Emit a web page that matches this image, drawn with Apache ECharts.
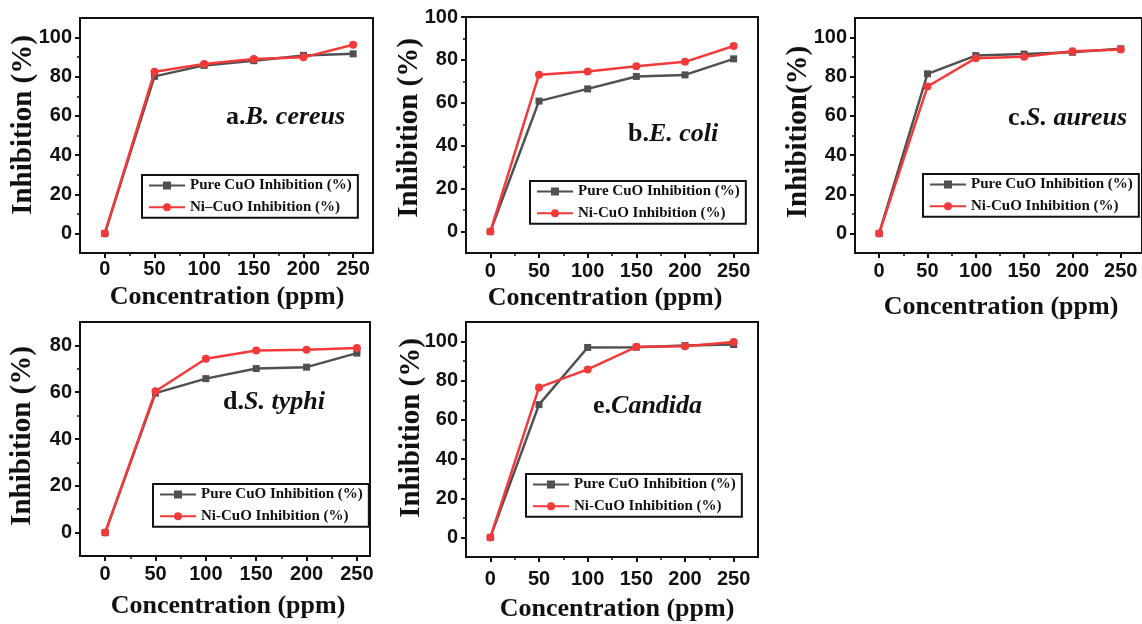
<!DOCTYPE html>
<html>
<head>
<meta charset="utf-8">
<script src="https://cdn.jsdelivr.net/npm/echarts@6/dist/echarts.min.js"></script>
<style>html,body{margin:0;padding:0;background:#fff;}#c{width:1142px;height:624px;}</style>
</head>
<body>
<div id="c"></div>
<script>
// ---------- data ----------
const concentrations = [0, 50, 100, 150, 200, 250];
const xTickValues = [0, 50, 100, 150, 200, 250];
const xMinorValues = [25, 75, 125, 175, 225];
const yTicks100 = [0, 20, 40, 60, 80, 100];
const yMinor100 = [10, 30, 50, 70, 90];
const yTicks80 = [0, 20, 40, 60, 80];
const yMinor80 = [10, 30, 50, 70];

const pureA = [0, 80.2, 85.8, 88.2, 90.9, 91.7];
const niA   = [0, 82.5, 86.5, 89.1, 89.9, 96.3];
const pureB = [0, 60.8, 66.5, 72.3, 73.0, 80.5];
const niB   = [0, 73.1, 74.6, 77.0, 79.1, 86.5];
const pureC = [0, 81.5, 90.8, 91.6, 92.5, 94.3];
const niC   = [0, 75.0, 89.5, 90.2, 93.0, 93.9];
const pureD = [0, 59.6, 65.8, 70.1, 70.7, 76.7];
const niD   = [0, 60.4, 74.3, 77.8, 78.1, 78.9];
const pureE = [0, 67.8, 97.0, 97.1, 98.0, 98.5];
const niE   = [0, 76.6, 85.8, 97.3, 97.6, 99.8];

const pureName = 'Pure CuO Inhibition (%)';
const niNameA = 'Ni–CuO Inhibition (%)';
const niName = 'Ni-CuO Inhibition (%)';
const xTitle = 'Concentration (ppm)';

// ---------- layout ----------
const panels = [
  {pure: pureA, ni: niA, niName: niNameA, grid: {left: 80, top: 18, width: 293, height: 235},
   xMin: -25, xMax: 270, yMin: -10, yMax: 110, yT: yTicks100, yM: yMinor100, xMargin: 6,
   legend: {left: 142, top: 175}, xT: [227, 297], yTitle: 'Inhibition (%)', yTp: [24, 125],
   ann: ['a.', 'B. cereus'], annP: [226, 117]},
  {pure: pureB, ni: niB, niName: niName, grid: {left: 466, top: 17, width: 292, height: 236},
   xMin: -25, xMax: 275, yMin: -10, yMax: 100, yT: yTicks100, yM: yMinor100, xMargin: 8,
   legend: {left: 530, top: 181}, xT: [605, 298], yTitle: 'Inhibition (%)', yTp: [410, 128],
   ann: ['b.', 'E. coli'], annP: [628, 134]},
  {pure: pureC, ni: niC, niName: niName, grid: {left: 855, top: 18, width: 290, height: 235},
   xMin: -25, xMax: 272, yMin: -10, yMax: 110, yT: yTicks100, yM: yMinor100, xMargin: 8,
   legend: {left: 923, top: 174}, xT: [1001, 307], yTitle: 'Inhibition(%)', yTp: [799, 132],
   ann: ['c.', 'S. aureus'], annP: [1008, 118]},
  {pure: pureD, ni: niD, niName: niName, grid: {left: 80, top: 322, width: 290, height: 234},
   xMin: -25, xMax: 263, yMin: -10, yMax: 90, yT: yTicks80, yM: yMinor80, xMargin: 8,
   legend: {left: 153, top: 484}, xT: [228, 606], yTitle: 'Inhibition (%)', yTp: [23, 436],
   ann: ['d.', 'S. typhi'], annP: [223, 402]},
  {pure: pureE, ni: niE, niName: niName, grid: {left: 466, top: 322, width: 292, height: 235},
   xMin: -25, xMax: 275, yMin: -10, yMax: 110, yT: yTicks100, yM: yMinor100, xMargin: 12,
   legend: {left: 526, top: 474}, xT: [617, 609], yTitle: 'Inhibition (%)', yTp: [412, 428],
   ann: ['e.', 'Candida'], annP: [593, 406]}
];

const INK = '#111';
const GRAY = '#505050';
const RED = '#f23a3a';
const tickFont = {color: INK, fontFamily: 'Liberation Sans, Arial, sans-serif', fontWeight: 'bold', fontSize: 20};

const grids = [], xAxes = [], yAxes = [], series = [], legends = [], graphics = [];
panels.forEach((p, i) => {
  grids.push(Object.assign({show: true, borderColor: INK, borderWidth: 2, containLabel: false}, p.grid));
  xAxes.push({
    type: 'value', gridIndex: i, min: p.xMin, max: p.xMax, position: 'bottom',
    axisLine: {show: true, onZero: false, lineStyle: {color: INK, width: 2}},
    axisTick: {show: true, inside: false, customValues: xTickValues, length: 5, lineStyle: {color: INK, width: 2}},
    axisLabel: Object.assign({customValues: xTickValues, margin: p.xMargin}, tickFont),
    splitLine: {show: false}
  });
  xAxes.push({
    type: 'value', gridIndex: i, min: p.xMin, max: p.xMax, position: 'bottom',
    axisLine: {show: false, onZero: false}, axisLabel: {show: false}, splitLine: {show: false},
    axisTick: {show: true, inside: false, customValues: xMinorValues, length: 3, lineStyle: {color: INK, width: 1.5}}
  });
  yAxes.push({
    type: 'value', gridIndex: i, min: p.yMin, max: p.yMax, position: 'left',
    axisLine: {show: true, onZero: false, lineStyle: {color: INK, width: 2}},
    axisTick: {show: true, inside: false, customValues: p.yT, length: 5, lineStyle: {color: INK, width: 2}},
    axisLabel: Object.assign({customValues: p.yT, margin: 8}, tickFont),
    splitLine: {show: false}
  });
  yAxes.push({
    type: 'value', gridIndex: i, min: p.yMin, max: p.yMax, position: 'left',
    axisLine: {show: false, onZero: false}, axisLabel: {show: false}, splitLine: {show: false},
    axisTick: {show: true, inside: false, customValues: p.yM, length: 3, lineStyle: {color: INK, width: 1.5}}
  });
  series.push({
    type: 'line', name: pureName, xAxisIndex: 2 * i, yAxisIndex: 2 * i,
    data: concentrations.map((c, k) => [c, p.pure[k]]),
    symbol: 'rect', symbolSize: 7, color: GRAY,
    lineStyle: {color: GRAY, width: 2.5}, itemStyle: {color: GRAY}, z: 2
  });
  series.push({
    type: 'line', name: p.niName, xAxisIndex: 2 * i, yAxisIndex: 2 * i,
    data: concentrations.map((c, k) => [c, p.ni[k]]),
    symbol: 'circle', symbolSize: 8, color: RED,
    lineStyle: {color: RED, width: 2.5}, itemStyle: {color: RED}, z: 3
  });
  legends.push({
    data: [pureName, p.niName], orient: 'vertical', left: p.legend.left, top: p.legend.top,
    itemWidth: 36, itemHeight: 10, itemGap: 4.7, padding: [2, 6],
    borderColor: INK, borderWidth: 2, selectedMode: false,
    textStyle: {color: INK, fontFamily: 'Liberation Serif, Times New Roman, serif', fontWeight: 'bold', fontSize: 15, lineHeight: 17}
  });
  graphics.push({
    type: 'text', x: p.xT[0], y: p.xT[1],
    style: {text: xTitle, fill: INK, fontFamily: 'Liberation Serif, Times New Roman, serif', fontWeight: 'bold', fontSize: 26, align: 'center', verticalAlign: 'middle'}
  });
  graphics.push({
    type: 'text', x: p.yTp[0], y: p.yTp[1], rotation: Math.PI / 2,
    style: {text: p.yTitle, fill: INK, fontFamily: 'Liberation Serif, Times New Roman, serif', fontWeight: 'bold', fontSize: 29, align: 'center', verticalAlign: 'middle'}
  });
  graphics.push({
    type: 'text', x: p.annP[0], y: p.annP[1],
    style: {
      text: '{n|' + p.ann[0] + '}{i|' + p.ann[1] + '}', fill: INK,
      fontFamily: 'Liberation Serif, Times New Roman, serif', fontWeight: 'bold', fontSize: 26,
      align: 'left', verticalAlign: 'middle',
      rich: {
        n: {fill: INK, fontFamily: 'Liberation Serif, Times New Roman, serif', fontWeight: 'bold', fontSize: 26},
        i: {fill: INK, fontFamily: 'Liberation Serif, Times New Roman, serif', fontWeight: 'bold', fontStyle: 'italic', fontSize: 26}
      }
    }
  });
});

const chart = echarts.init(document.getElementById('c'), null, {renderer: 'canvas'});
chart.setOption({
  animation: false,
  backgroundColor: '#fff',
  grid: grids, xAxis: xAxes, yAxis: yAxes, series: series, legend: legends, graphic: graphics
});
</script>
</body>
</html>
